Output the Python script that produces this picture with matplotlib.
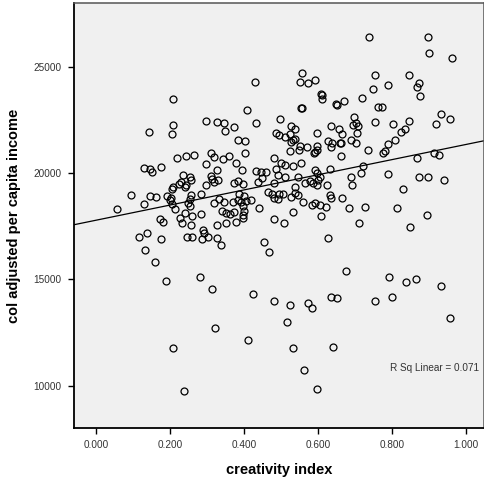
import numpy as np
import matplotlib
matplotlib.use("Agg")
import matplotlib.pyplot as plt

plt.rcParams['font.family'] = ['Liberation Sans', 'DejaVu Sans']

# creativity index / col adjusted per capita income
creativity = [
    0.739, 0.898, 0.901, 0.963, 0.429, 0.208, 0.558, 0.551, 0.572, 0.592,
    0.607, 0.610, 0.610, 0.650, 0.652, 0.669, 0.553, 0.557, 0.719, 0.753,
    0.750, 0.790, 0.762, 0.772, 0.847, 0.873, 0.867, 0.876, 0.408, 0.933,
    0.956, 0.698, 0.297, 0.327, 0.347, 0.498, 0.753, 0.847, 0.803, 0.918,
    0.432, 0.208, 0.372,
    0.143, 0.206, 0.218, 0.129, 0.145, 0.150, 0.174, 0.094, 0.057, 0.128,
    0.146, 0.162, 0.192, 0.203, 0.206, 0.207, 0.201, 0.206, 0.213, 0.172,
    0.181, 0.137, 0.116, 0.175, 0.133, 0.159, 0.224,
    0.348, 0.487, 0.495, 0.510, 0.383, 0.402, 0.402, 0.243, 0.265, 0.311,
    0.320, 0.342, 0.358, 0.297, 0.326, 0.378, 0.394, 0.482, 0.433, 0.446,
    0.459, 0.487, 0.500, 0.510, 0.491, 0.235, 0.253, 0.257, 0.230, 0.243,
    0.239, 0.311, 0.313, 0.329, 0.318, 0.297, 0.374, 0.383, 0.397, 0.437,
    0.448, 0.482, 0.284, 0.257, 0.253, 0.248, 0.333, 0.347, 0.318, 0.369,
    0.383, 0.392, 0.405, 0.418, 0.387, 0.401, 0.464, 0.475, 0.482, 0.491,
    0.505, 0.495, 0.253, 0.239, 0.259, 0.227, 0.232, 0.284, 0.339, 0.350,
    0.363, 0.396, 0.399, 0.396, 0.396, 0.374, 0.441, 0.257, 0.326, 0.351,
    0.378, 0.482, 0.507, 0.288, 0.291, 0.286, 0.302, 0.246, 0.259, 0.327,
    0.338, 0.453, 0.468,
    0.528, 0.539, 0.524, 0.533, 0.528, 0.537, 0.598, 0.636, 0.658, 0.665,
    0.695, 0.704, 0.706, 0.690, 0.703, 0.789, 0.775, 0.780, 0.735, 0.627,
    0.638, 0.634, 0.660, 0.663, 0.551, 0.548, 0.569, 0.596, 0.591, 0.588,
    0.598, 0.524, 0.663, 0.533, 0.555, 0.591, 0.596, 0.605, 0.600, 0.632,
    0.510, 0.546, 0.722, 0.717, 0.789, 0.688, 0.692, 0.564, 0.578, 0.587,
    0.598, 0.623, 0.539, 0.537, 0.546, 0.528, 0.560, 0.633, 0.636, 0.665,
    0.584, 0.591, 0.605, 0.621, 0.533, 0.609, 0.683, 0.726, 0.710, 0.627,
    0.825, 0.836, 0.809, 0.869, 0.915, 0.927, 0.872, 0.897, 0.942, 0.831,
    0.813, 0.895, 0.849, 0.708,
    0.190, 0.208, 0.237, 0.280, 0.314, 0.321, 0.411, 0.424, 0.482, 0.523,
    0.516, 0.532, 0.572, 0.585, 0.563, 0.598, 0.634, 0.652, 0.641, 0.676,
    0.754, 0.792, 0.801, 0.837, 0.864, 0.933, 0.958,
]
income = [
    26380, 26420, 25670, 25430, 24270, 23470, 24700, 24300, 24230, 24400,
    23730, 23690, 23470, 23230, 23200, 23390, 23040, 23040, 23530, 24610,
    23950, 24120, 23100, 23100, 24610, 24230, 24030, 23610, 22960, 22780,
    22530, 22650, 22470, 22400, 22350, 22530, 22400, 22430, 22320, 22320,
    22370, 22240, 22160,
    21930, 21850, 20710, 20230, 20190, 20070, 20290, 18970, 18290, 18550,
    18930, 18860, 18900, 18830, 19230, 19320, 18710, 18540, 18290, 17830,
    17700, 17190, 17000, 16890, 16390, 15810, 19470,
    21960, 21880, 21810, 21700, 21540, 21510, 20940, 20820, 20850, 20940,
    20760, 20680, 20800, 20410, 20130, 20450, 20130, 20710, 20100, 20050,
    20040, 20180, 20450, 20370, 19900, 19900, 19790, 19660, 19580, 19430,
    19350, 19850, 19740, 19660, 19580, 19430, 19510, 19620, 19470, 19570,
    19770, 19510, 19000, 18960, 18760, 18570, 18760, 18640, 18570, 18640,
    18720, 18640, 18690, 18720, 19000, 18910, 19110, 19000, 18800, 18760,
    19000, 19000, 18440, 18130, 17970, 17860, 17630, 18050, 18220, 18130,
    18070, 18440, 18220, 18020, 17890, 18170, 18330, 17550, 17550, 17660,
    17700, 17820, 17660, 17310, 17160, 16910, 17000, 17000, 16970, 16920,
    16610, 16770, 16300,
    22200, 22060, 21850, 21570, 21460, 21620, 21900, 22200, 22060, 21820,
    22240, 22350, 21880, 21540, 21430, 21350, 20940, 21040, 21070, 21490,
    21390, 21200, 21390, 21410, 21260, 21070, 21200, 21260, 20990, 20920,
    21100, 21040, 20790, 20320, 20450, 20130, 20010, 19820, 19660, 20210,
    19790, 19820, 20320, 19980, 19940, 19790, 19430, 19510, 19620, 19540,
    19430, 19430, 19350, 19040, 18960, 18880, 18640, 18960, 18800, 18830,
    18490, 18570, 18490, 18380, 18170, 17990, 18330, 18380, 17660, 16920,
    21930, 22090, 21540, 20710, 20920, 20840, 19790, 19820, 19690, 19230,
    18360, 18020, 17440, 22200,
    14930, 11760, 9720, 15090, 14550, 12700, 12120, 14310, 14000, 13790,
    13010, 11760, 13890, 13640, 10710, 9830, 14180, 14140, 11820, 15400,
    13980, 15120, 14180, 14890, 15000, 14690, 13200,
]

x_ticks = [0.0, 0.2, 0.4, 0.6, 0.8, 1.0]
y_ticks = [10000, 15000, 20000, 25000]

x = np.array(creativity)
y = np.array(income)
slope, intercept = np.polyfit(x, y, 1)

fig = plt.figure(figsize=(4.85, 4.82), dpi=100)
ax = fig.add_axes([74 / 485, 54 / 482, 410 / 485, 425 / 482])
ax.set_facecolor('#f0f0f0')

ax.plot(x, y, 'o', markersize=5, markerfacecolor='none',
        markeredgecolor='black', markeredgewidth=0.9, zorder=3)

ax.set_xlim(-0.06, 1.049)
ax.set_ylim(8000, 28000)
xl = np.array(ax.get_xlim())
ax.plot(xl, intercept + slope * xl, color='black', linewidth=0.9, zorder=2)

ax.set_xticks(x_ticks)
ax.set_xticklabels([f'{v:.3f}' for v in x_ticks])
ax.set_yticks(y_ticks)
ax.set_yticklabels([str(v) for v in y_ticks])
ax.tick_params(axis='both', direction='out', length=4, width=1,
               labelsize=7.2, colors='black', labelcolor='#333333', pad=5)

for side in ['left', 'bottom']:
    ax.spines[side].set_linewidth(1.3)
    ax.spines[side].set_color('black')
for side in ['top', 'right']:
    ax.spines[side].set_linewidth(1.1)
    ax.spines[side].set_color('#555555')

ax.set_xlabel('creativity index', fontsize=10.5, fontweight='bold', labelpad=9)
ax.set_ylabel('col adjusted per capita income', fontsize=10.5,
              fontweight='bold', labelpad=9)

ax.text(0.987, 0.1405, 'R Sq Linear = 0.071', transform=ax.transAxes,
        ha='right', va='center', fontsize=7.2, color='#333333')

fig.savefig('out.png', dpi=100)
